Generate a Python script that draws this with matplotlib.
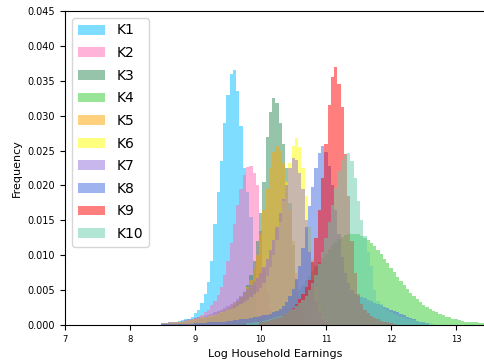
import numpy as np
import matplotlib
matplotlib.use("Agg")
import matplotlib.pyplot as plt

labels = ["K1", "K2", "K3", "K4", "K5", "K6", "K7", "K8", "K9", "K10"]
colors = ["deepskyblue", "hotpink", "seagreen", "limegreen", "orange",
          "yellow", "mediumpurple", "royalblue", "red", "mediumaquamarine"]

bin_width = 0.05

# Per-cluster share of households in each 0.05-wide bin of log earnings,
# given as (centre of first bin, bin heights).
k1_start = 8.50
k1 = [.0003, .0003, .0004, .0004, .0005, .0006, .0007, .0008, .0009, .0011,
      .0017, .0022, .0032, .0045, .0062, .0092, .0145, .0190, .0235, .0290,
      .0330, .0360, .0366, .0335, .0285, .0225, .0190, .0155, .0080, .0015,
      .0006, .0003]

k2_start = 8.50
k2 = [.0002, .0002, .0003, .0003, .0004, .0004, .0005, .0006, .0007, .0008,
      .0010, .0012, .0015, .0018, .0022, .0028, .0035, .0043, .0055, .0072,
      .0092, .0118, .0145, .0172, .0195, .0215, .0227, .0228, .0218, .0200,
      .0135, .0080, .0045, .0022, .0011, .0005, .0003]

k3_start = 8.80
k3 = [.0003, .0003, .0004, .0005, .0006, .0007, .0008, .0009, .0010, .0012,
      .0013, .0015, .0017, .0019, .0022, .0025, .0029, .0034, .0040, .0048,
      .0058, .0072, .0092, .0120, .0160, .0205, .0270, .0305, .0326, .0318,
      .0290, .0260, .0225, .0175, .0115, .0065, .0032, .0015, .0007, .0003]

k4_start = 9.50
k4 = [.0002, .0002, .0003, .0003, .0003, .0004, .0004, .0005, .0006, .0007,
      .0008, .0010, .0012, .0014, .0017, .0020, .0023, .0027, .0031, .0036,
      .0041, .0046, .0052, .0058, .0064, .0070, .0077, .0084, .0090, .0096,
      .0102, .0109, .0114, .0119, .0123, .0126, .0129, .0130, .0131, .0131,
      .0130, .0128, .0125, .0122, .0118, .0113, .0108, .0102, .0095, .0089,
      .0082, .0076, .0069, .0063, .0057, .0051, .0046, .0041, .0037, .0033,
      .0029, .0026, .0023, .0020, .0018, .0016, .0014, .0012, .0011, .0009,
      .0008, .0007, .0006, .0005, .0005, .0004, .0004, .0003, .0003]

k5_start = 8.50
k5 = [.0002, .0002, .0003, .0003, .0004, .0004, .0005, .0006, .0007, .0008,
      .0009, .0010, .0011, .0012, .0013, .0015, .0016, .0018, .0020, .0022,
      .0025, .0028, .0031, .0035, .0040, .0046, .0054, .0065, .0080, .0100,
      .0130, .0165, .0195, .0225, .0248, .0257, .0250, .0232, .0205, .0165,
      .0120, .0075, .0040, .0020, .0010, .0005]

k6_start = 8.50
k6 = [.0003, .0003, .0004, .0004, .0005, .0005, .0006, .0006, .0007, .0008,
      .0009, .0010, .0011, .0012, .0013, .0014, .0015, .0016, .0018, .0019,
      .0021, .0023, .0025, .0027, .0030, .0033, .0036, .0040, .0044, .0048,
      .0053, .0060, .0070, .0083, .0100, .0122, .0148, .0177, .0205, .0232,
      .0256, .0268, .0255, .0225, .0185, .0140, .0095, .0055, .0028, .0013,
      .0006, .0003]

k7_start = 8.50
k7 = [.0003, .0003, .0004, .0004, .0005, .0005, .0006, .0007, .0008, .0009,
      .0010, .0011, .0012, .0013, .0015, .0016, .0018, .0020, .0022, .0024,
      .0027, .0030, .0033, .0037, .0041, .0046, .0051, .0057, .0062, .0068,
      .0074, .0083, .0094, .0107, .0122, .0140, .0160, .0180, .0200, .0225,
      .0239, .0236, .0218, .0195, .0150, .0105, .0065, .0035, .0017, .0008,
      .0004]

k8_start = 8.50
k8 = [.0001, .0001, .0001, .0001, .0001, .0002, .0002, .0002, .0002, .0002,
      .0003, .0003, .0003, .0003, .0004, .0004, .0004, .0005, .0005, .0005,
      .0006, .0006, .0007, .0007, .0008, .0008, .0009, .0010, .0011, .0012,
      .0013, .0014, .0015, .0016, .0018, .0020, .0023, .0027, .0033, .0041,
      .0052, .0066, .0085, .0110, .0140, .0170, .0198, .0225, .0247, .0256,
      .0248, .0228, .0200, .0165, .0130, .0098, .0075, .0060, .0050, .0045,
      .0042, .0040, .0038, .0036, .0034, .0032, .0030, .0028, .0026, .0024,
      .0022, .0020, .0018, .0016, .0014, .0012, .0010, .0008, .0006, .0005,
      .0004, .0003]

k9_start = 10.00
k9 = [.0004, .0005, .0006, .0007, .0008, .0010, .0012, .0014, .0017, .0020,
      .0025, .0030, .0037, .0045, .0054, .0065, .0090, .0125, .0165, .0210,
      .0260, .0315, .0355, .0370, .0345, .0312, .0245, .0185, .0120, .0075,
      .0045, .0030, .0022, .0017, .0013, .0010, .0008, .0006, .0005, .0004,
      .0003, .0002]

k10_start = 9.80
k10 = [.0003, .0003, .0004, .0004,
       .0005, .0006, .0007, .0008, .0010, .0011, .0013, .0015, .0017, .0020,
       .0023, .0027, .0031, .0036, .0042, .0050, .0060, .0072, .0087, .0105,
       .0125, .0148, .0172, .0197, .0220, .0236, .0243, .0247, .0235, .0210,
       .0178, .0150, .0128, .0105, .0085, .0050, .0035, .0030, .0025, .0021,
       .0018, .0016, .0014, .0012, .0010, .0009, .0008, .0007, .0006, .0005,
       .0004, .0003, .0003, .0002]

starts = [k1_start, k2_start, k3_start, k4_start, k5_start,
          k6_start, k7_start, k8_start, k9_start, k10_start]
heights = [k1, k2, k3, k4, k5, k6, k7, k8, k9, k10]

fig = plt.figure(figsize=(4.84, 3.63), dpi=100)
ax = fig.add_axes([65 / 484, 38 / 363, 421 / 484, 314 / 363])

for label, color, start, h in zip(labels, colors, starts, heights):
    h = np.asarray(h)
    edges = start - bin_width / 2 + bin_width * np.arange(len(h) + 1)
    ax.stairs(h, edges, fill=True, color=color, alpha=0.5,
              linewidth=0, label=label)

ax.set_xlim(7, 13.455)
ax.set_ylim(0, 0.045)
ax.set_yticks(np.arange(0, 0.0451, 0.005))
ax.yaxis.set_major_formatter(matplotlib.ticker.FormatStrFormatter("%.3f"))
ax.set_xticks(range(7, 14))
ax.tick_params(axis="y", labelsize=7)
ax.tick_params(axis="x", labelsize=6)
ax.set_xlabel("Log Household Earnings", fontsize=8)
ax.set_ylabel("Frequency", fontsize=8)
ax.legend(loc="upper left", fontsize=10, labelspacing=0.62)

fig.savefig("out.png", dpi=100)
